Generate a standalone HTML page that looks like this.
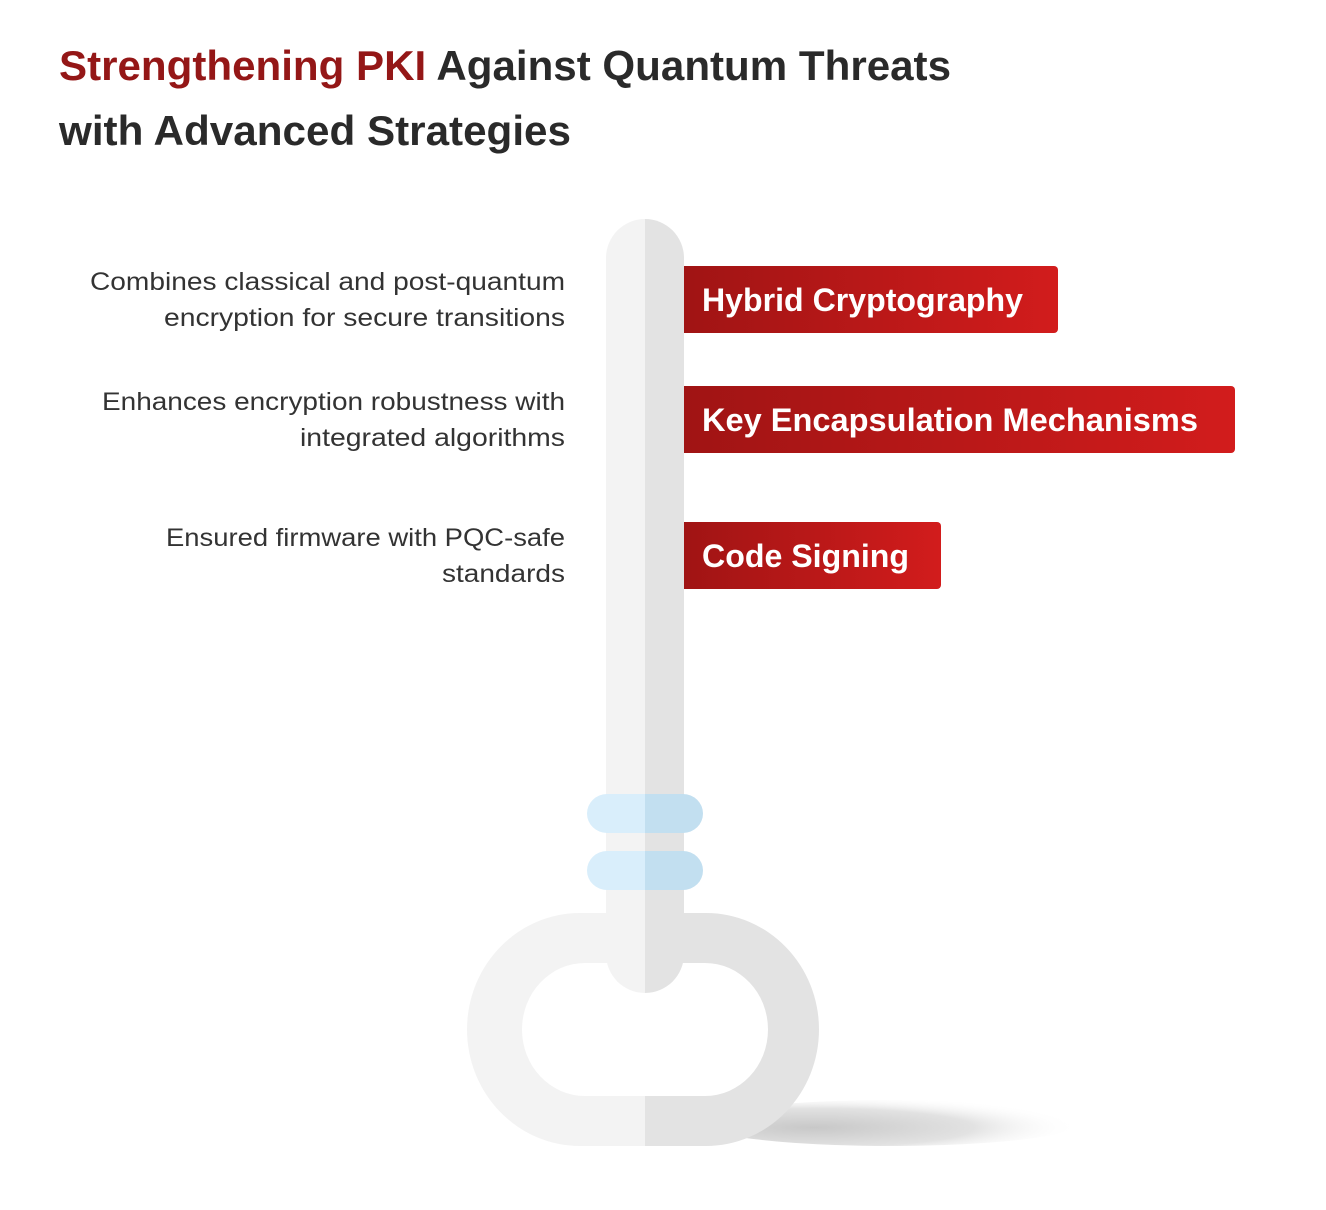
<!DOCTYPE html>
<html><head><meta charset="utf-8"><style>
html,body{margin:0;padding:0;background:#fff;}
svg{display:block;}
text{font-family:"Liberation Sans",sans-serif;}
</style></head><body>
<svg width="1326" height="1210" viewBox="0 0 1326 1210" xmlns="http://www.w3.org/2000/svg">
<defs>
<linearGradient id="rg" x1="0" x2="1" y1="0" y2="0">
<stop offset="0" stop-color="#a01414"/><stop offset="1" stop-color="#d21c1c"/>
</linearGradient>
<radialGradient id="sh" cx="0.3" cy="0.6" r="0.7">
<stop offset="0" stop-color="#c8c8c8"/><stop offset="0.6" stop-color="#e2e2e2"/><stop offset="1" stop-color="#fff" stop-opacity="0"/>
</radialGradient>
<clipPath id="L"><rect x="0" y="0" width="645" height="1210"/></clipPath>
<clipPath id="R"><rect x="645" y="0" width="700" height="1210"/></clipPath>
</defs>
<rect width="1326" height="1210" fill="#fff"/>
<text x="59" y="80" font-size="42" font-weight="bold" textLength="892" lengthAdjust="spacingAndGlyphs"><tspan fill="#941717">Strengthening PKI</tspan><tspan fill="#2a2a2a"> Against Quantum Threats</tspan></text>
<text x="59" y="145" font-size="42" font-weight="bold" fill="#2a2a2a" textLength="512" lengthAdjust="spacingAndGlyphs">with Advanced Strategies</text>

<!-- shadow -->
<ellipse cx="890" cy="1123" rx="190" ry="23" fill="url(#sh)"/>

<g clip-path="url(#L)" fill="#f3f3f3">
<path fill-rule="evenodd" d="M580 913 H706 A113 116.5 0 0 1 706 1146 H580 A113 116.5 0 0 1 580 913 Z M585 963 H705 A63 66.5 0 0 1 705 1096 H585 A63 66.5 0 0 1 585 963 Z"/>
<path d="M606 258 A39 39 0 0 1 684 258 V954 A39 39 0 0 1 606 954 Z"/>
<rect x="587" y="794" width="116" height="39" rx="20" fill="#d9eefb"/>
<rect x="587" y="851" width="116" height="39" rx="20" fill="#d9eefb"/>
</g>
<g clip-path="url(#R)" fill="#e3e3e3">
<path fill-rule="evenodd" d="M580 913 H706 A113 116.5 0 0 1 706 1146 H580 A113 116.5 0 0 1 580 913 Z M585 963 H705 A63 66.5 0 0 1 705 1096 H585 A63 66.5 0 0 1 585 963 Z"/>
<path d="M606 258 A39 39 0 0 1 684 258 V954 A39 39 0 0 1 606 954 Z"/>
<rect x="587" y="794" width="116" height="39" rx="20" fill="#c2dff0"/>
<rect x="587" y="851" width="116" height="39" rx="20" fill="#c2dff0"/>
</g>

<path d="M684 266 H1054 a4 4 0 0 1 4 4 V329 a4 4 0 0 1 -4 4 H684 Z" fill="url(#rg)"/>
<path d="M684 386 H1231 a4 4 0 0 1 4 4 V449 a4 4 0 0 1 -4 4 H684 Z" fill="url(#rg)"/>
<path d="M684 522 H937 a4 4 0 0 1 4 4 V585 a4 4 0 0 1 -4 4 H684 Z" fill="url(#rg)"/>
<g fill="#fff" font-size="32" font-weight="bold">
<text x="702" y="311" textLength="321" lengthAdjust="spacingAndGlyphs">Hybrid Cryptography</text>
<text x="702" y="431" textLength="496" lengthAdjust="spacingAndGlyphs">Key Encapsulation Mechanisms</text>
<text x="702" y="567" textLength="207" lengthAdjust="spacingAndGlyphs">Code Signing</text>
</g>

<g fill="#333" font-size="25" lengthAdjust="spacingAndGlyphs">
<text x="90" y="290" textLength="475" lengthAdjust="spacingAndGlyphs">Combines classical and post-quantum</text>
<text x="164" y="326" textLength="401" lengthAdjust="spacingAndGlyphs">encryption for secure transitions</text>
<text x="102" y="410" textLength="463" lengthAdjust="spacingAndGlyphs">Enhances encryption robustness with</text>
<text x="300" y="446" textLength="265" lengthAdjust="spacingAndGlyphs">integrated algorithms</text>
<text x="166" y="546" textLength="399" lengthAdjust="spacingAndGlyphs">Ensured firmware with PQC-safe</text>
<text x="442" y="582" textLength="123" lengthAdjust="spacingAndGlyphs">standards</text>
</g>
</svg>
</body></html>
